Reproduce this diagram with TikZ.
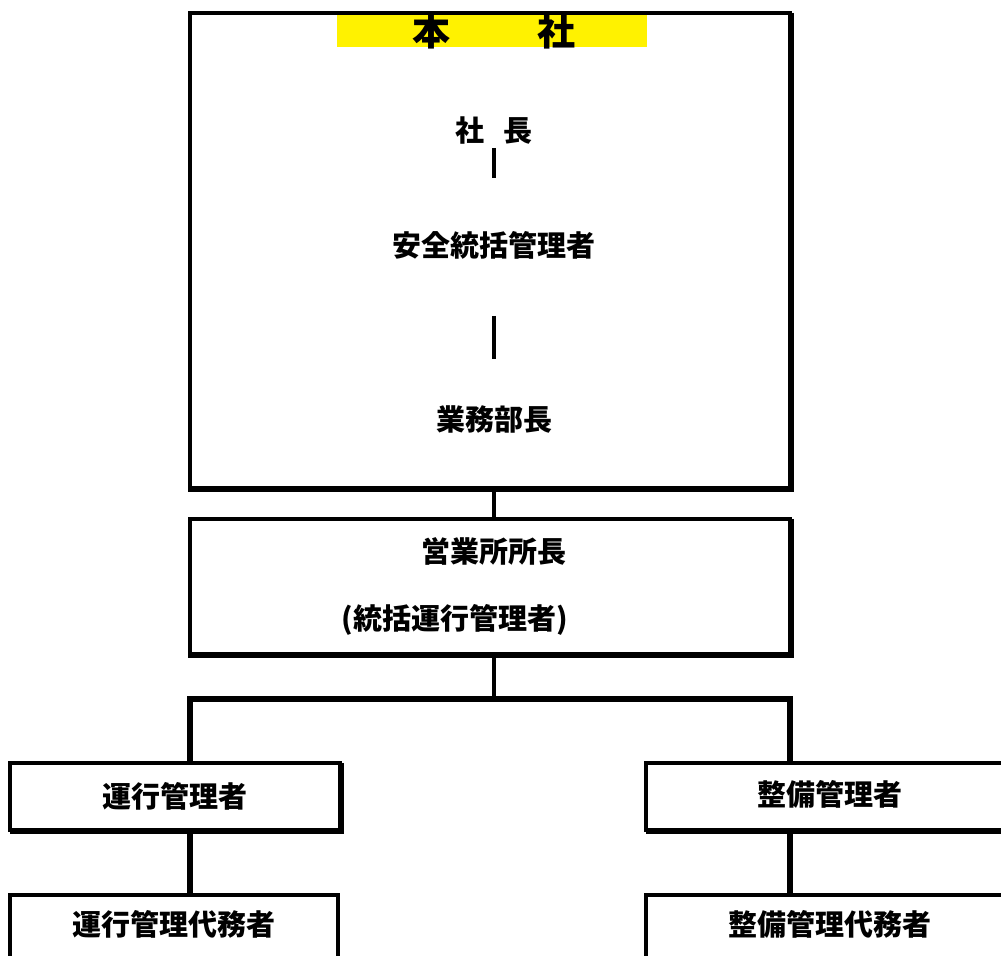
\documentclass[tikz,border=0pt]{standalone}
\usepackage{fontspec}
\newfontfamily\jp{Noto Sans CJK JP}
\begin{document}
\begin{tikzpicture}[x=0.5pt,y=-0.5pt,
  box/.style={draw=black,line width=2pt,fill=white,inner sep=0pt,outer sep=0pt},
  shadow/.style={line width=1.2pt},
  lbl/.style={font=\jp\bfseries\fontsize{14.5}{16}\selectfont,inner sep=0pt},
  conn/.style={line width=2.2pt}]
\useasboundingbox (0,0) rectangle (1001,956);
\clip (0,0) rectangle (1001,956);
% main box
\node[box,minimum width=300pt,minimum height=237.5pt] (main) at (490,250.5) {};
\draw[shadow] ([xshift=1.5pt]main.north east) -- ([xshift=1.5pt,yshift=-1.5pt]main.south east) -- ([xshift=-1pt,yshift=-1.5pt]main.south west);
\node[fill=yellow,minimum width=155pt,minimum height=16pt,inner sep=0pt] (band) at (492,31) {};
\node[font=\jp\bfseries\fontsize{19}{20}\selectfont,inner sep=0pt] (honsha) at (494,31) {本\hspace{44pt}社};
\node[lbl] (shacho) at (494,131) {社\hspace{10pt}長};
\node[lbl] (anzen) at (494,245) {安全統括管理者};
\node[lbl] (gyomu) at (494,419) {業務部長};
\coordinate (a1) at (494,148);
\coordinate (a2) at (494,178);
\coordinate (b1) at (494,316);
\coordinate (b2) at (494,359);
\draw[conn] (a1) -- (a2);
\draw[line width=2.4pt] (b1) -- (b2);
% office box
\node[box,minimum width=300pt,minimum height=67.5pt] (office) at (490,586.5) {};
\draw[shadow] ([xshift=1.5pt]office.north east) -- ([xshift=1.5pt,yshift=-1.5pt]office.south east) -- ([xshift=-1pt,yshift=-1.5pt]office.south west);
\node[lbl] (eigyo) at (494,551) {営業所所長};
\node[lbl] (tokatsu) at (455,620) {(統括運行管理者)};
\draw[conn] (main.south -| a1) -- (office.north -| a1);
% lower boxes
\node[box,minimum width=165pt,minimum height=33.5pt] (unko) at (175,796.5) {};
\node[lbl] at (unko.center) {運行管理者};
\node[box,minimum width=164pt,minimum height=40pt] (unkod) at (174,935) {};
\node[lbl] at (174,924) {運行管理代務者};
\node[box,minimum width=190pt,minimum height=33.5pt] (seibi) at (836,796.5) {};
\node[lbl] at (830,794) {整備管理者};
\node[box,minimum width=190pt,minimum height=40pt] (seibid) at (836,935) {};
\node[lbl] at (830,924) {整備管理代務者};
\draw[shadow] ([xshift=1.5pt]unko.north east) -- ([xshift=1.5pt,yshift=-1.5pt]unko.south east) -- ([yshift=-1.5pt]unko.south west);
\draw[shadow] ([yshift=-1.5pt]seibi.south west) -- ([yshift=-1.5pt]seibi.south east);
% bus
\coordinate (bus) at (494,699);
\coordinate (busl) at (190,699);
\coordinate (busr) at (790,699);
\draw[conn] (office.south -| bus) -- (bus);
\draw[line width=2.8pt,line cap=rect] (busl) -- (busr);
\draw[line width=2.6pt] (busl) -- (busl |- unko.north);
\draw[line width=2.6pt] (busr) -- (busr |- seibi.north);
\draw[line width=2.6pt] (busl |- unko.south) -- (busl |- unkod.north);
\draw[line width=2.6pt] (busr |- seibi.south) -- (busr |- seibid.north);
\end{tikzpicture}
\end{document}
